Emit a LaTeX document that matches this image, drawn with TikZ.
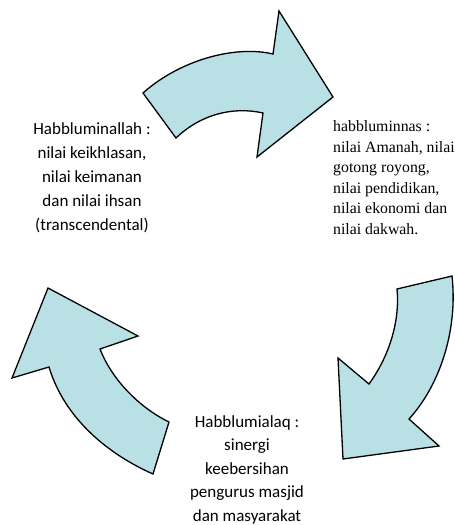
\documentclass[tikz,border=0pt]{standalone}
\usepackage{fontspec}
\newfontfamily\calfont{Carlito}
\newfontfamily\timesfont{Liberation Serif}
\definecolor{arrowfill}{RGB}{185,224,228}
\tikzset{
  bentarrow/.style={draw=black, fill=arrowfill, line width=1.3pt, line join=miter},
  sanslabel/.style={inner sep=0pt, align=center, font=\calfont\fontsize{17}{24}\selectfont},
  seriflabel/.style={inner sep=0pt, align=left, font=\timesfont\fontsize{15.8}{20.5}\selectfont},
}
\begin{document}
\begin{tikzpicture}[x=1pt,y=-1pt]
\useasboundingbox (0,0) rectangle (455,525);
% top arrow
\path[bentarrow] (143,93) .. controls (180,60) and (235,45) .. (273,54) -- (279,11) -- (333,97) -- (257,157) -- (263,113) .. controls (232,106) and (200,115) .. (176,138) -- cycle;
% right arrow
\path[bentarrow] (452,276) -- (397,289) .. controls (400,320) and (390,355) .. (369,384) -- (338,358) -- (343,459) -- (439,446) -- (409,419) .. controls (440,385) and (458,330) .. (452,276) -- cycle;
% left arrow
\path[bentarrow] (49,367) -- (12,378) -- (48,288) -- (138,336) -- (100,349) .. controls (112,380) and (140,408) .. (169,422) -- (153,474) .. controls (110,455) and (65,420) .. (49,367) -- cycle;
% texts (anchor = baseline of last line)
\node[sanslabel, anchor=base] (allah) at (92,230) {Habbluminallah :\\nilai keikhlasan,\\nilai keimanan\\dan nilai ihsan\\(transcendental)};
\node[seriflabel, anchor=base west] (nas) at (333,234) {habbluminnas :\\nilai Amanah, nilai\\gotong royong,\\nilai pendidikan,\\nilai ekonomi dan\\nilai dakwah.};
\node[sanslabel, anchor=base, font=\calfont\fontsize{17}{23.5}\selectfont] (alaq) at (247,521) {Habblumialaq :\\sinergi\\keebersihan\\pengurus masjid\\dan masyarakat};
\end{tikzpicture}
\end{document}
